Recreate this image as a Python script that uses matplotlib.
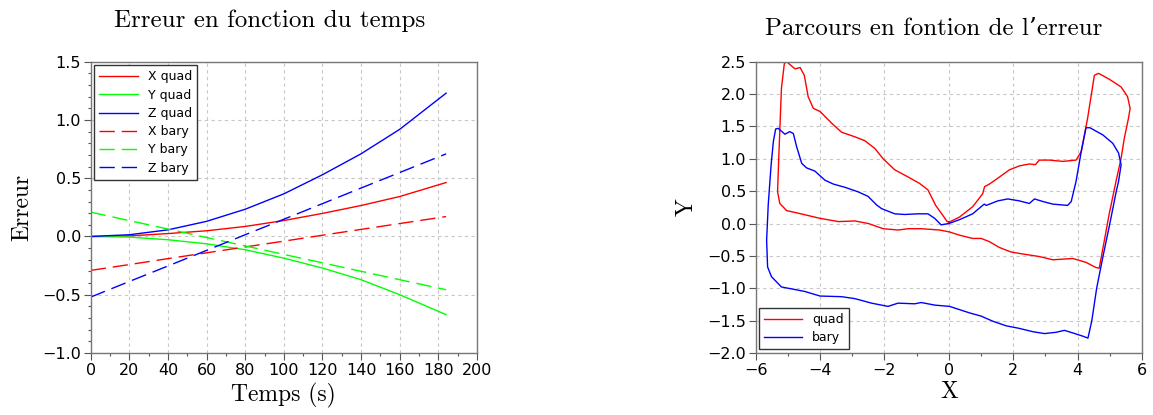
import matplotlib
matplotlib.use("Agg")
from matplotlib import pyplot as plt
from matplotlib.ticker import MultipleLocator, FuncFormatter

# ---- Erreur en fonction du temps ----
temps = [0, 20, 40, 60, 80, 100, 120, 140, 160, 184]
x_quad = [0, 0.005, 0.025, 0.049, 0.086, 0.137, 0.198, 0.266, 0.343, 0.463]
y_quad = [0, -0.005, -0.028, -0.063, -0.114, -0.186, -0.271, -0.371, -0.5, -0.671]
z_quad = [0, 0.015, 0.057, 0.13, 0.234, 0.366, 0.53, 0.71, 0.92, 1.23]
x_bary = [-0.291, -0.241, -0.19, -0.14, -0.09, -0.04, 0.011, 0.061, 0.111, 0.171]
y_bary = [0.209, 0.136, 0.064, -0.009, -0.081, -0.154, -0.226, -0.299, -0.371, -0.457]
z_bary = [-0.52, -0.386, -0.253, -0.119, 0.015, 0.148, 0.282, 0.416, 0.549, 0.709]

# ---- Parcours en fontion de l'erreur ----
quad_x = [0.0, 0.33, 0.74, 1.05, 1.11, 1.26, 1.52, 1.88, 2.19, 2.50, 2.69, 2.81,
          3.12, 3.54, 3.95, 4.11, 4.31, 4.52, 4.65, 4.98, 5.35, 5.55, 5.63, 5.58,
          5.45, 5.35, 5.19, 5.04, 4.98, 4.83, 4.67, 4.57, 4.26, 3.85, 3.54, 3.23,
          2.81, 2.29, 1.93, 1.57, 1.26, 1.00, 0.74, 0.33, 0.02, -0.29, -0.86,
          -1.27, -1.57, -2.04, -2.50, -2.92, -3.43, -4.00, -4.68, -5.04, -5.25,
          -5.32, -5.28, -5.20, -5.11, -5.04, -4.78, -4.62, -4.49, -4.37, -4.21,
          -4.00, -3.64, -3.33, -2.92, -2.61, -2.30, -2.04, -1.68, -1.27, -0.91,
          -0.65, -0.41, -0.15, -0.05, 0.0]
quad_y = [0.02, 0.10, 0.26, 0.46, 0.57, 0.61, 0.70, 0.83, 0.89, 0.92, 0.91, 0.98,
          0.98, 0.96, 0.98, 1.11, 1.63, 2.29, 2.32, 2.23, 2.11, 1.96, 1.78, 1.63,
          1.32, 1.01, 0.65, 0.29, 0.15, -0.26, -0.69, -0.68, -0.60, -0.54, -0.55,
          -0.56, -0.51, -0.47, -0.44, -0.37, -0.28, -0.23, -0.23, -0.18, -0.13,
          -0.10, -0.08, -0.08, -0.10, -0.08, 0.00, 0.04, 0.03, 0.08, 0.16, 0.20,
          0.31, 0.49, 1.06, 2.09, 2.47, 2.50, 2.39, 2.41, 2.29, 1.96, 1.78, 1.73,
          1.55, 1.41, 1.34, 1.28, 1.16, 1.00, 0.83, 0.72, 0.62, 0.52, 0.28, 0.10,
          0.03, 0.02]

bary_x = [0.0, 0.33, 0.74, 1.00, 1.10, 1.16, 1.52, 1.83, 2.19, 2.50, 2.66, 2.92,
          3.23, 3.69, 3.80, 3.95, 4.11, 4.26, 4.38, 4.78, 5.09, 5.27, 5.35, 5.27,
          5.20, 5.00, 4.79, 4.59, 4.44, 4.32, 4.16, 3.85, 3.59, 3.33, 2.97, 2.60,
          2.19, 1.78, 1.37, 1.00, 0.64, 0.33, 0.02, -0.44, -0.86, -1.06, -1.58,
          -1.89, -2.40, -2.92, -3.33, -4.00, -4.47, -4.88, -5.20, -5.51, -5.63,
          -5.66, -5.61, -5.52, -5.45, -5.38, -5.30, -5.09, -4.94, -4.83, -4.73,
          -4.57, -4.42, -4.16, -3.85, -3.59, -3.23, -2.82, -2.51, -2.25, -2.09,
          -1.68, -1.37, -0.96, -0.65, -0.44, -0.24, 0.0]
bary_y = [0.0, 0.06, 0.15, 0.26, 0.30, 0.28, 0.35, 0.38, 0.35, 0.31, 0.38, 0.34,
          0.30, 0.28, 0.34, 0.65, 1.11, 1.48, 1.48, 1.37, 1.24, 1.09, 0.91, 0.65,
          0.50, 0.00, -0.50, -1.00, -1.50, -1.77, -1.74, -1.69, -1.65, -1.68,
          -1.70, -1.67, -1.62, -1.58, -1.51, -1.43, -1.38, -1.33, -1.28, -1.26,
          -1.22, -1.24, -1.23, -1.28, -1.23, -1.16, -1.13, -1.12, -1.05, -1.01,
          -0.98, -0.82, -0.67, -0.26, 0.29, 0.91, 1.27, 1.46, 1.47, 1.38, 1.42,
          1.39, 1.19, 0.93, 0.86, 0.81, 0.67, 0.61, 0.56, 0.49, 0.42, 0.29, 0.23,
          0.15, 0.14, 0.15, 0.15, 0.08, -0.02, 0.0]

serif = ["cmr10", "DejaVu Serif"]
tick_size = 11.5
dash = (11, 5)


def fmt1(v, pos):
    return ("%.1f" % v).replace("-", "\u2212")


def fmt0(v, pos):
    return ("%d" % round(v)).replace("-", "\u2212")


fig = plt.figure(figsize=(11.53, 4.15), dpi=100)
ax1 = fig.add_axes([0.0787, 0.1494, 0.335, 0.7019])
ax2 = fig.add_axes([0.6554, 0.1494, 0.3351, 0.7019])

ax1.plot(temps, x_quad, color="#ff0000", lw=1.0, label="X quad")
ax1.plot(temps, y_quad, color="#00ff00", lw=1.0, label="Y quad")
ax1.plot(temps, z_quad, color="#0000ff", lw=1.0, label="Z quad")
ax1.plot(temps, x_bary, color="#ff0000", lw=1.0, dashes=dash, label="X bary")
ax1.plot(temps, y_bary, color="#00ff00", lw=1.0, dashes=dash, label="Y bary")
ax1.plot(temps, z_bary, color="#0000ff", lw=1.0, dashes=dash, label="Z bary")
ax1.set_xlim(0, 200)
ax1.set_ylim(-1.0, 1.5)
ax1.xaxis.set_major_locator(MultipleLocator(20))
ax1.xaxis.set_minor_locator(MultipleLocator(10))
ax1.yaxis.set_major_locator(MultipleLocator(0.5))
ax1.yaxis.set_minor_locator(MultipleLocator(0.1))
ax1.xaxis.set_major_formatter(FuncFormatter(fmt0))
ax1.yaxis.set_major_formatter(FuncFormatter(fmt1))
ax1.set_title("Erreur en fonction du temps", family=serif, fontsize=18,
              pad=25, x=0.462)
ax1.set_xlabel("Temps (s)", family=serif, fontsize=17, labelpad=4)
ax1.set_ylabel("Erreur", family=serif, fontsize=17, labelpad=6)

ax2.plot(quad_x, quad_y, color="#ff0000", lw=1.0, label="quad")
ax2.plot(bary_x, bary_y, color="#0000ff", lw=1.0, label="bary")
ax2.set_xlim(-6, 6)
ax2.set_ylim(-2.0, 2.5)
ax2.xaxis.set_major_locator(MultipleLocator(2))
ax2.xaxis.set_minor_locator(MultipleLocator(1))
ax2.yaxis.set_major_locator(MultipleLocator(0.5))
ax2.xaxis.set_major_formatter(FuncFormatter(fmt0))
ax2.yaxis.set_major_formatter(FuncFormatter(fmt1))
ax2.set_title("Parcours en fontion de l\u2019erreur", family=serif, fontsize=18,
              pad=19, x=0.462)
ax2.set_xlabel("X", family=serif, fontsize=17, labelpad=2)
ax2.set_ylabel("Y", family=serif, fontsize=17, labelpad=7)

for ax in (ax1, ax2):
    ax.grid(True, which="major", color="#c8c8c8", linestyle=(0, (3, 3)), lw=0.8)
    for s in ax.spines.values():
        s.set_color("#777777")
        s.set_linewidth(1.0)
    ax.tick_params(which="major", direction="out", length=5, width=0.8,
                   color="#555555", labelsize=tick_size, pad=2,
                   top=False, right=False)
    ax.tick_params(which="minor", direction="out", length=2.5, width=0.8,
                   color="#555555", top=False, right=False)

leg1 = ax1.legend(loc="upper left", fontsize=9, handlelength=3.1,
                  borderaxespad=0.3, labelspacing=0.42, fancybox=False,
                  framealpha=1, borderpad=0.4)
leg1.get_frame().set_edgecolor("#333333")
leg2 = ax2.legend(loc="lower left", fontsize=9, handlelength=3.0,
                  borderaxespad=0.3, labelspacing=0.42, fancybox=False,
                  framealpha=1, borderpad=0.4)
leg2.get_frame().set_edgecolor("#333333")

fig.savefig("out.png", dpi=100)
